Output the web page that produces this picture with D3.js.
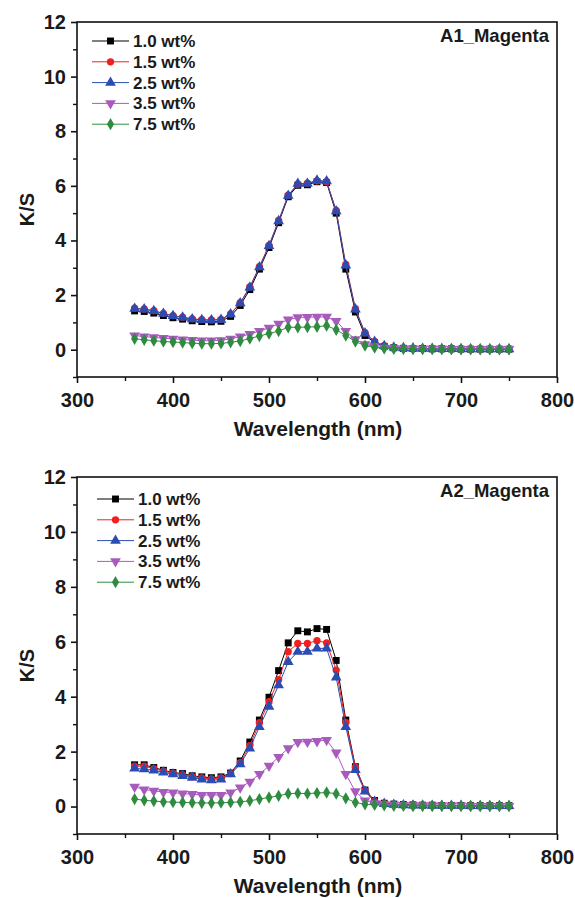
<!DOCTYPE html>
<html>
<head>
<meta charset="utf-8">
<script src="https://cdn.jsdelivr.net/npm/d3@7"></script>
<style>
  html, body { margin: 0; padding: 0; background: #fff; }
  svg text { font-family: "Liberation Sans", Arial, sans-serif; font-weight: bold; fill: #1a1a1a; }
</style>
</head>
<body>
<svg id="chart" width="575" height="898"></svg>
<script>
// Wavelength grid (nm)
const wavelengths = [360,370,380,390,400,410,420,430,440,450,460,470,480,490,500,510,520,530,540,550,
                     560,570,580,590,600,610,620,630,640,650,660,670,680,690,700,710,720,730,740,750];

const seriesNames = ["1.0 wt%", "1.5 wt%", "2.5 wt%", "3.5 wt%", "7.5 wt%"];
const seriesColors = ["#000000", "#f02020", "#2b4db3", "#a95bbd", "#2e8b3f"];
const seriesSymbols = ["square", "circle", "triangle", "triangleDown", "diamond"];

const xTicks = [300, 400, 500, 600, 700, 800];
const yTicks = [0, 2, 4, 6, 8, 10, 12];

// A1_Magenta K/S spectra
const a1_10 = [1.42,1.40,1.34,1.25,1.17,1.12,1.06,1.03,1.02,1.04,1.22,1.62,2.20,2.95,3.74,4.65,5.60,6.02,6.04,6.15,
               6.12,5.00,2.95,1.38,0.52,0.26,0.12,0.07,0.05,0.04,0.04,0.03,0.03,0.03,0.02,0.02,0.02,0.02,0.02,0.02];
const a1_15 = [1.52,1.49,1.43,1.33,1.25,1.19,1.13,1.10,1.09,1.11,1.31,1.72,2.30,3.04,3.82,4.73,5.66,6.06,6.10,6.18,
               6.15,5.10,3.12,1.50,0.62,0.30,0.15,0.08,0.06,0.05,0.04,0.04,0.03,0.03,0.03,0.02,0.02,0.02,0.02,0.02];
const a1_25 = [1.50,1.48,1.42,1.32,1.24,1.18,1.12,1.09,1.08,1.10,1.30,1.70,2.28,3.02,3.80,4.71,5.64,6.08,6.08,6.20,
               6.17,5.07,3.09,1.48,0.60,0.29,0.14,0.08,0.06,0.05,0.04,0.04,0.03,0.03,0.03,0.02,0.02,0.02,0.02,0.02];
const a1_35 = [0.52,0.48,0.45,0.42,0.40,0.37,0.35,0.33,0.33,0.34,0.40,0.48,0.57,0.68,0.80,0.95,1.10,1.18,1.19,1.20,
               1.20,1.05,0.68,0.38,0.20,0.12,0.07,0.05,0.04,0.04,0.03,0.03,0.03,0.02,0.02,0.02,0.02,0.02,0.02,0.02];
const a1_75 = [0.40,0.36,0.33,0.30,0.28,0.26,0.24,0.22,0.22,0.23,0.27,0.32,0.41,0.50,0.59,0.68,0.82,0.82,0.83,0.84,
               0.88,0.73,0.52,0.30,0.15,0.08,0.05,0.03,0.03,0.02,0.02,0.02,0.02,0.02,0.01,0.01,0.01,0.01,0.01,0.01];

// A2_Magenta K/S spectra
const a2_10 = [1.52,1.52,1.42,1.32,1.24,1.20,1.12,1.08,1.05,1.08,1.22,1.66,2.35,3.15,3.98,4.95,5.96,6.40,6.36,6.48,
               6.45,5.32,3.15,1.45,0.60,0.22,0.12,0.09,0.07,0.06,0.05,0.05,0.04,0.04,0.04,0.03,0.03,0.03,0.03,0.03];
const a2_15 = [1.47,1.47,1.38,1.29,1.22,1.16,1.09,1.04,1.01,1.04,1.20,1.60,2.22,3.05,3.82,4.62,5.64,5.94,5.94,6.04,
               5.96,4.97,3.06,1.43,0.58,0.20,0.11,0.08,0.06,0.05,0.05,0.04,0.04,0.04,0.03,0.03,0.03,0.03,0.03,0.03];
const a2_25 = [1.39,1.36,1.32,1.24,1.18,1.12,1.05,0.99,0.96,0.99,1.18,1.54,2.12,2.90,3.64,4.42,5.27,5.64,5.64,5.76,
               5.76,4.70,2.90,1.33,0.55,0.18,0.10,0.07,0.05,0.04,0.04,0.03,0.03,0.03,0.03,0.02,0.02,0.02,0.02,0.02];
const a2_35 = [0.72,0.62,0.57,0.53,0.51,0.47,0.45,0.42,0.42,0.42,0.51,0.69,0.90,1.18,1.48,1.80,2.12,2.35,2.36,2.38,
               2.42,1.96,1.18,0.55,0.22,0.12,0.08,0.06,0.05,0.04,0.04,0.03,0.03,0.03,0.03,0.02,0.02,0.02,0.02,0.02];
const a2_75 = [0.27,0.23,0.20,0.17,0.16,0.15,0.14,0.13,0.13,0.14,0.15,0.17,0.21,0.27,0.33,0.39,0.47,0.48,0.47,0.49,
               0.51,0.47,0.30,0.15,0.08,0.06,0.04,0.03,0.03,0.02,0.02,0.02,0.02,0.02,0.02,0.02,0.02,0.02,0.02,0.02];

const panels = [
  { title: "A1_Magenta", top: 22, bottom: 377, legendX: 92, legendY: 41, series: [a1_10, a1_15, a1_25, a1_35, a1_75] },
  { title: "A2_Magenta", top: 477, bottom: 834, legendX: 97, legendY: 499, series: [a2_10, a2_15, a2_25, a2_35, a2_75] }
];

const svg = d3.select("#chart");
const left = 77, right = 557;

function symbolPath(kind) {
  const sizes = { square: 48, circle: 42, triangle: 50, triangleDown: 50, diamond: 44 };
  const types = { square: d3.symbolSquare, circle: d3.symbolCircle, triangle: d3.symbolTriangle,
                  triangleDown: d3.symbolTriangle, diamond: d3.symbolDiamond };
  return d3.symbol().type(types[kind]).size(sizes[kind])();
}
function symbolTransform(kind, x, y) {
  return kind === "triangleDown" ? `translate(${x},${y}) rotate(180)` : `translate(${x},${y})`;
}

panels.forEach(p => {
  const g = svg.append("g");
  const x = d3.scaleLinear().domain([300, 800]).range([left, right]);
  const y = d3.scaleLinear().domain([-1, 12]).range([p.bottom, p.top]);

  // series lines and markers
  p.series.forEach((vals, si) => {
    const pts = wavelengths.map((w, i) => [w, vals[i]]);
    g.append("path")
      .datum(pts)
      .attr("fill", "none")
      .attr("stroke", seriesColors[si])
      .attr("stroke-width", 1)
      .attr("d", d3.line().x(d => x(d[0])).y(d => y(d[1])));
    g.selectAll(null)
      .data(pts)
      .join("path")
      .attr("d", symbolPath(seriesSymbols[si]))
      .attr("transform", d => symbolTransform(seriesSymbols[si], x(d[0]), y(d[1])))
      .attr("fill", seriesColors[si]);
  });

  // frame
  g.append("rect")
    .attr("x", left).attr("y", p.top)
    .attr("width", right - left).attr("height", p.bottom - p.top)
    .attr("fill", "none").attr("stroke", "#111").attr("stroke-width", 1.6);

  // x axis
  const xAxis = g.append("g").attr("transform", `translate(0,${p.bottom})`)
    .call(d3.axisBottom(x).tickValues(xTicks).tickSize(6).tickPadding(10).tickFormat(d3.format("d")));
  xAxis.select(".domain").remove();
  xAxis.selectAll("line").attr("stroke", "#111").attr("stroke-width", 1.6);
  xAxis.selectAll("text").attr("font-size", 20).attr("fill", "#1a1a1a");
  g.append("g").attr("transform", `translate(0,${p.bottom})`)
    .call(d3.axisBottom(x).tickValues([350, 450, 550, 650, 750]).tickSize(4).tickFormat(""))
    .call(a => { a.select(".domain").remove(); a.selectAll("line").attr("stroke", "#111").attr("stroke-width", 1.4); });

  // y axis
  const yAxis = g.append("g").attr("transform", `translate(${left},0)`)
    .call(d3.axisLeft(y).tickValues(yTicks).tickSize(6).tickPadding(5));
  yAxis.select(".domain").remove();
  yAxis.selectAll("line").attr("stroke", "#111").attr("stroke-width", 1.6);
  yAxis.selectAll("text").attr("font-size", 20).attr("fill", "#1a1a1a");
  g.append("g").attr("transform", `translate(${left},0)`)
    .call(d3.axisLeft(y).tickValues([-1, 1, 3, 5, 7, 9, 11]).tickSize(4).tickFormat(""))
    .call(a => { a.select(".domain").remove(); a.selectAll("line").attr("stroke", "#111").attr("stroke-width", 1.4); });

  // axis titles
  g.append("text")
    .attr("x", (left + right) / 2 + 1).attr("y", p.bottom + 59)
    .attr("text-anchor", "middle").attr("font-size", 21)
    .text("Wavelength (nm)");
  g.append("text")
    .attr("transform", `translate(34,${(p.top + p.bottom) / 2 + 10}) rotate(-90)`)
    .attr("text-anchor", "middle").attr("font-size", 20)
    .text("K/S");

  // panel title
  g.append("text")
    .attr("x", right - 8).attr("y", p.top + 20)
    .attr("text-anchor", "end").attr("font-size", 18.5)
    .text(p.title);

  // legend
  seriesNames.forEach((name, si) => {
    const ly = p.legendY + si * 20.8;
    g.append("line")
      .attr("x1", p.legendX).attr("x2", p.legendX + 37)
      .attr("y1", ly).attr("y2", ly)
      .attr("stroke", seriesColors[si]).attr("stroke-width", 1);
    g.append("path")
      .attr("d", symbolPath(seriesSymbols[si]))
      .attr("transform", symbolTransform(seriesSymbols[si], p.legendX + 18.5, ly))
      .attr("fill", seriesColors[si]);
    g.append("text")
      .attr("x", p.legendX + 41).attr("y", ly + 6)
      .attr("font-size", 17)
      .text(name);
  });
});
</script>
</body>
</html>
